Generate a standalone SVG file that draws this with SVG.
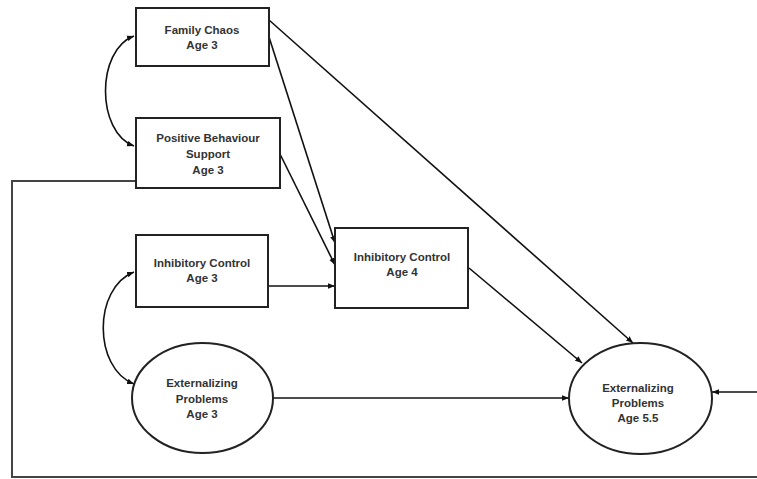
<svg xmlns="http://www.w3.org/2000/svg" width="757" height="479" viewBox="0 0 757 479">
<defs>
<marker id="ah" viewBox="0 0 10 10" refX="10" refY="5" markerWidth="7" markerHeight="7" markerUnits="userSpaceOnUse" orient="auto-start-reverse">
<path d="M0,1 L10,5 L0,9 Z" fill="#111"/>
</marker>
<style>
.node rect, .node ellipse { fill: #fff; stroke: #222; stroke-width: 2; }
.node text { font-family: "Liberation Sans", Arial, sans-serif; font-weight: bold; font-size: 11.5px; fill: #333; text-anchor: middle; }
.edge { fill: none; stroke: #111; stroke-width: 1.6; }
.arrow { marker-end: url(#ah); }
.both { marker-start: url(#ah); marker-end: url(#ah); }
.frame { fill: none; stroke: #444; stroke-width: 2; }
</style>
</defs>
<rect width="757" height="479" fill="#fff"/>
<g id="connectors">
<path class="edge frame" d="M136,181 L12,181 L12,477 L757,477"/>
<path class="edge arrow" d="M269,20 L633,343"/>
<path class="edge arrow" d="M269,37 L335,243"/>
<path class="edge arrow" d="M280,154 L335,265"/>
<path class="edge arrow" d="M268,286 L335,286"/>
<path class="edge arrow" d="M469,268 L582,363"/>
<path class="edge arrow" d="M273,398 L569,398"/>
<path class="edge arrow" d="M757,392 L712,392"/>
<path class="edge both" d="M134,36 C96,50 96,132 134,146"/>
<path class="edge both" d="M134,272 C93,288 93,368 134,384"/>
</g>
<g id="family-chaos" class="node">
<rect x="136" y="8" width="133" height="58"/>
<text x="202" y="34">Family Chaos</text>
<text x="202" y="49">Age 3</text>
</g>
<g id="positive-behaviour" class="node">
<rect x="136" y="118" width="144" height="70"/>
<text x="208" y="142">Positive Behaviour</text>
<text x="208" y="158">Support</text>
<text x="208" y="174">Age 3</text>
</g>
<g id="inhibitory-control-3" class="node">
<rect x="136" y="235" width="132" height="72"/>
<text x="202" y="267">Inhibitory Control</text>
<text x="202" y="282">Age 3</text>
</g>
<g id="externalizing-3" class="node">
<ellipse cx="202.5" cy="398" rx="70.5" ry="55"/>
<text x="202" y="387">Externalizing</text>
<text x="202" y="403">Problems</text>
<text x="202" y="418">Age 3</text>
</g>
<g id="inhibitory-control-4" class="node">
<rect x="335" y="228" width="133" height="80"/>
<text x="402" y="261">Inhibitory Control</text>
<text x="402" y="276">Age 4</text>
</g>
<g id="externalizing-55" class="node">
<ellipse cx="640.5" cy="398.5" rx="71.5" ry="55.5"/>
<text x="638" y="392">Externalizing</text>
<text x="638" y="407">Problems</text>
<text x="638" y="422">Age 5.5</text>
</g>
</svg>
